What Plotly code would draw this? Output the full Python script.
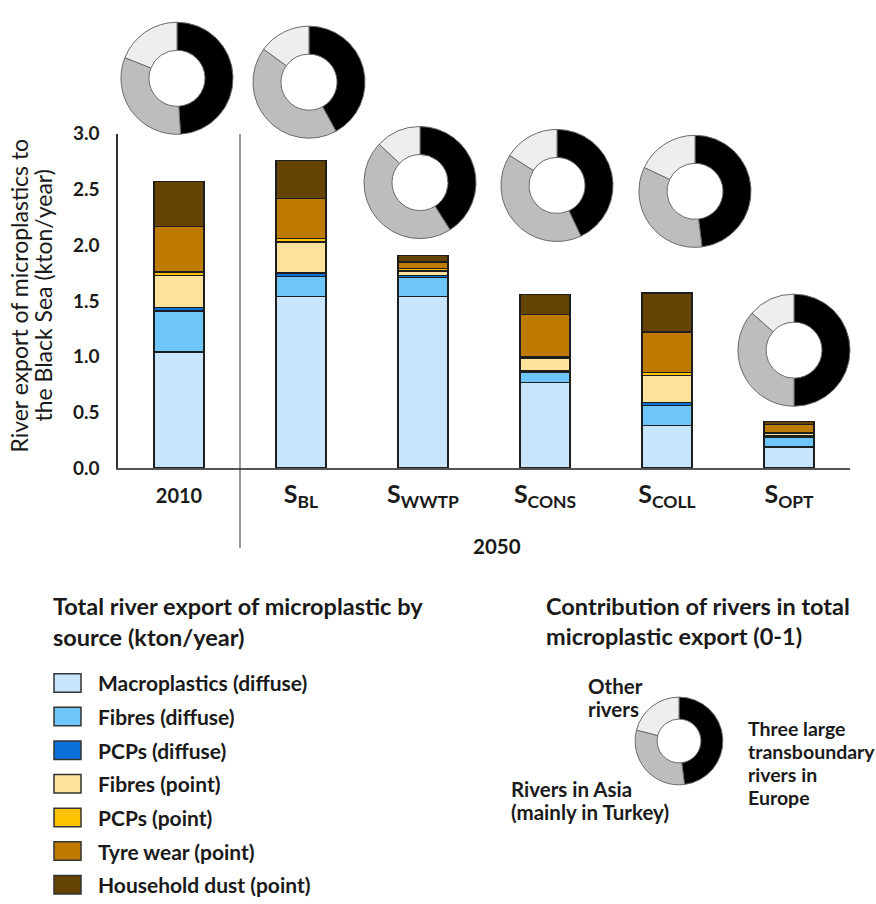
import plotly.graph_objects as go

W, H = 876, 904

# ---------------- data ----------------
scenarios = ["2010", "S_BL", "S_WWTP", "S_CONS", "S_COLL", "S_OPT"]
tick_labels = ["<span style='font-size:20px'>2010</span>", "S<sub>BL</sub>", "S<sub>WWTP</sub>",
               "S<sub>CONS</sub>", "S<sub>COLL</sub>", "S<sub>OPT</sub>"]

series_names = ["Macroplastics (diffuse)", "Fibres (diffuse)", "PCPs (diffuse)",
                "Fibres (point)", "PCPs (point)", "Tyre wear (point)", "Household dust (point)"]
macro_diffuse = [1.04, 1.54, 1.54, 0.77, 0.38, 0.19]
fibres_diffuse = [0.37, 0.18, 0.17, 0.09, 0.18, 0.09]
pcps_diffuse = [0.03, 0.03, 0.02, 0.01, 0.03, 0.01]
fibres_point = [0.29, 0.28, 0.04, 0.12, 0.24, 0.02]
pcps_point = [0.03, 0.03, 0.02, 0.01, 0.03, 0.01]
tyre_point = [0.41, 0.36, 0.06, 0.38, 0.36, 0.07]
dust_point = [0.40, 0.34, 0.06, 0.18, 0.35, 0.03]
series_values = [macro_diffuse, fibres_diffuse, pcps_diffuse, fibres_point,
                 pcps_point, tyre_point, dust_point]
series_colors = ["#C8E6FB", "#6EC5FA", "#0A72D8", "#FFE29B", "#FFC200", "#BE7B00", "#654300"]

river_groups = ["Three large transboundary rivers in Europe",
                "Rivers in Asia (mainly in Turkey)", "Other rivers"]
river_colors = ["#000000", "#BDBDBD", "#EEEEEE"]
share_europe = [0.49, 0.42, 0.41, 0.43, 0.48, 0.50]
share_asia = [0.32, 0.43, 0.46, 0.41, 0.34, 0.365]
share_other = [0.19, 0.15, 0.13, 0.16, 0.18, 0.135]
legend_donut = [0.48, 0.31, 0.21]

y_title_lines = ["River export of microplastics to", "the Black Sea (kton/year)"]
legend_title_lines = ["Total river export of microplastic by", "source (kton/year)"]
donut_title_lines = ["Contribution of rivers in total", "microplastic export (0-1)"]
label_europe = ["Three large", "transboundary", "rivers in", "Europe"]
label_asia = ["Rivers in Asia", "(mainly in Turkey)"]
label_other = ["Other", "rivers"]

# ---------------- layout helpers (pixel -> paper) ----------------
def px(x):
    return x / W

def py(y):
    return 1 - y / H

FONT = "Lato"
TXT = "#1a1a1a"

fig = go.Figure()

for name, vals, col in zip(series_names, series_values, series_colors):
    fig.add_trace(go.Bar(
        x=scenarios, y=vals, name=name,
        marker=dict(color=col, line=dict(color="#1e1e1e", width=1.5)),
        showlegend=False,
    ))

# donuts above each bar
donut_centers = [(177, 68), (309, 72), (420, 175), (557, 178), (695, 184), (794, 347)]
R = 57.5
for i, (cx, cy) in enumerate(donut_centers):
    fig.add_trace(go.Pie(
        values=[share_europe[i], share_asia[i], share_other[i]],
        labels=river_groups,
        marker=dict(colors=river_colors, line=dict(color="#6a6a6a", width=1)),
        hole=0.5, sort=False, direction="clockwise", rotation=0,
        textinfo="none", showlegend=False,
        domain=dict(x=[px(cx - R), px(cx + R)], y=[py(cy + R), py(cy - R)]),
    ))

# legend donut
lcx, lcy, LR = 679, 748, 45
fig.add_trace(go.Pie(
    values=legend_donut, labels=river_groups,
    marker=dict(colors=river_colors, line=dict(color="#6a6a6a", width=1)),
    hole=0.5, sort=False, direction="clockwise", rotation=0,
    textinfo="none", showlegend=False,
    domain=dict(x=[px(lcx - LR), px(lcx + LR)], y=[py(lcy + LR), py(lcy - LR)]),
))

annotations = []
shapes = []


def text_line(txt, x, y, size, bold=True, anchor="left", angle=0):
    f = dict(family=FONT, size=size, color=TXT)
    if bold:
        f["weight"] = "bold"
    annotations.append(dict(
        text=txt, x=px(x), y=py(y), xref="paper", yref="paper", showarrow=False,
        textangle=angle, font=f, xanchor=anchor, yanchor="middle",
    ))


# y-axis title (two rotated lines)
for k, line in enumerate(y_title_lines):
    annotations.append(dict(
        text=line, x=px(19 + 24 * k), y=py(291), xref="paper", yref="paper",
        showarrow=False, textangle=-90, font=dict(family=FONT, size=23, color=TXT),
        xanchor="center", yanchor="middle",
    ))

# 2050 label
text_line("2050", 497, 548, 20.5, anchor="center")

# separator line between 2010 and 2050 scenarios
shapes.append(dict(type="line", xref="x", yref="paper", x0=0.5, x1=0.5,
                   y0=py(550), y1=py(125), line=dict(color="#333333", width=1)))

# left legend (sources)
for k, line in enumerate(legend_title_lines):
    text_line(line, 51, 610 + 31 * k, 23.5)
for k, (name, col) in enumerate(zip(series_names, series_colors)):
    yc = 688.5 + 34.5 * k
    shapes.append(dict(type="rect", xref="paper", yref="paper",
                       x0=px(54), x1=px(81), y0=py(yc + 9.5), y1=py(yc - 9.5),
                       fillcolor=col, line=dict(color="#333333", width=1.5)))
    text_line(name, 96, yc, 21)

# right legend (rivers)
for k, line in enumerate(donut_title_lines):
    text_line(line, 544, 609 + 31 * k, 23.5)
for k, line in enumerate(label_europe):
    text_line(line, 746, 735.5 + 23.5 * k, 19.5)
for k, line in enumerate(label_asia):
    text_line(line, 509, 797 + 24 * k, 20.5)
for k, line in enumerate(label_other):
    text_line(line, 586, 692 + 23 * k, 20.5)

fig.update_layout(
    width=W, height=H, margin=dict(l=0, r=0, t=0, b=0),
    paper_bgcolor="white", plot_bgcolor="white",
    barmode="stack", bargap=0.59,
    font=dict(family=FONT, color=TXT),
    xaxis=dict(
        domain=[px(118), px(850)], type="category",
        tickvals=scenarios, ticktext=tick_labels,
        tickfont=dict(family=FONT, size=25, color=TXT, weight="bold"),
        showline=True, linecolor="#555555", linewidth=1.5,
        ticks="", showgrid=False, zeroline=False, ticklabelstandoff=3,
    ),
    yaxis=dict(
        domain=[py(468), py(125)], range=[0, 3], tickvals=[0, 0.5, 1.0, 1.5, 2.0, 2.5, 3.0],
        tickformat=".1f",
        tickfont=dict(family=FONT, size=19, color=TXT, weight="bold"),
        showline=True, linecolor="#333333", linewidth=1.5,
        ticks="", showgrid=False, zeroline=False, ticklabelstandoff=13,
    ),
    annotations=annotations, shapes=shapes,
)

fig.write_html("out.html")
